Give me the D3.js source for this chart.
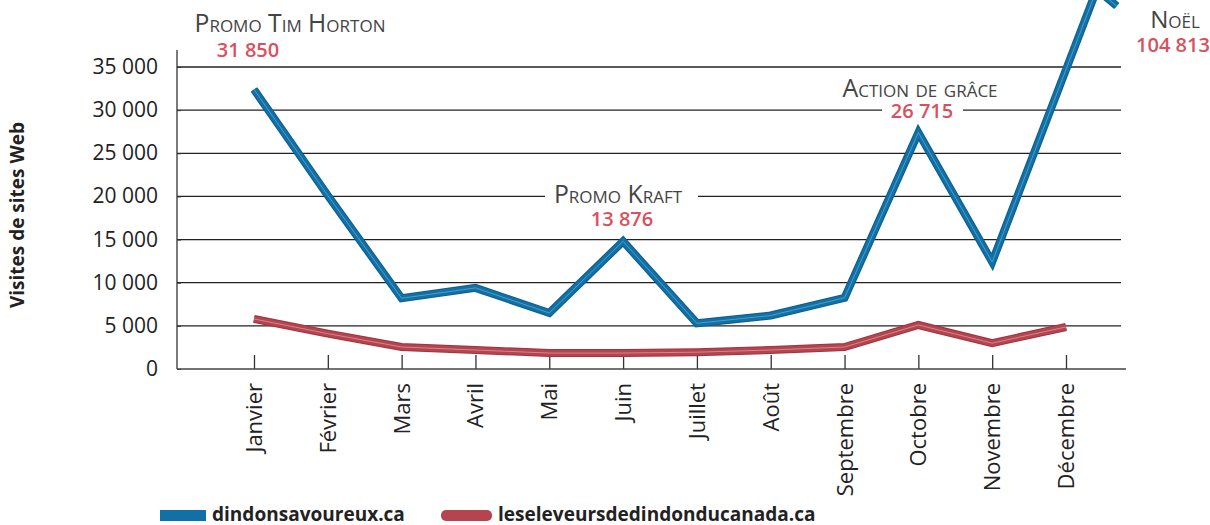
<!DOCTYPE html>
<html>
<head>
<meta charset="utf-8">
<script src="https://cdn.jsdelivr.net/npm/d3@7"></script>
<style>
  body { margin: 0; background: #fff; }
  text { font-family: "Open Sans", sans-serif; }
</style>
</head>
<body>
<svg id="chart" width="1210" height="525"></svg>
<script>
const months = ["Janvier", "Février", "Mars", "Avril", "Mai", "Juin", "Juillet", "Août", "Septembre", "Octobre", "Novembre", "Décembre"];
const dindonsValues = [32400, 20100, 8200, 9400, 6500, 14800, 5300, 6200, 8250, 27400, 12400, 34700];
const eleveursValues = [5800, 4100, 2550, 2200, 1850, 1850, 1950, 2200, 2550, 5100, 3000, 4870];
const yTicks = [0, 5000, 10000, 15000, 20000, 25000, 30000, 35000];
const seriesNames = ["dindonsavoureux.ca", "leseleveursdedindonducanada.ca"];
const annotationTitles = ["Promo Tim Horton", "Promo Kraft", "Action de grâce", "Noël"];
const annotationValues = ["31 850", "13 876", "26 715", "104 813"];

const svg = d3.select("#chart");
const fmt = d => d3.format(",")(d).replace(/,/g, " ");

const x = d3.scalePoint().domain(months).range([254, 1066]);
const y = d3.scaleLinear().domain([0, 35000]).range([369, 67]);

// shrink or grow a text to the width it has in the picture
function fitWidth(sel, w) {
    const size = parseFloat(sel.attr("font-size"));
    const len = sel.node().getComputedTextLength();
    if (len > 0) sel.attr("font-size", size * w / len);
}

// gridlines
svg.append("g")
    .selectAll("line")
    .data(yTicks.filter(d => d > 0))
    .join("line")
    .attr("x1", 177).attr("x2", 1121)
    .attr("y1", d => y(d)).attr("y2", d => y(d))
    .attr("stroke", "#222").attr("stroke-width", 1.3);

// y axis
const yAxis = svg.append("g")
    .attr("transform", "translate(177,0)")
    .call(d3.axisRight(y).tickValues(yTicks).tickSize(4).tickFormat(""));
yAxis.select(".domain").remove();
yAxis.selectAll("line").attr("stroke", "#333");
svg.append("line")
    .attr("x1", 177).attr("x2", 177).attr("y1", 50).attr("y2", y(0))
    .attr("stroke", "#333").attr("stroke-width", 1.3);

svg.append("g")
    .selectAll("text")
    .data(yTicks)
    .join("text")
    .attr("x", 158)
    .attr("y", d => y(d) + 7)
    .attr("text-anchor", "end")
    .attr("font-size", 21)
    .attr("fill", "#222")
    .text(fmt);

// x axis
const xAxis = svg.append("g")
    .attr("transform", `translate(0,${y(0)})`)
    .call(d3.axisTop(x).tickSize(14).tickFormat(""));
xAxis.select(".domain").remove();
xAxis.selectAll("line").attr("stroke", "#333").attr("stroke-width", 1.3);
svg.append("line")
    .attr("x1", 177).attr("x2", 1126).attr("y1", y(0)).attr("y2", y(0))
    .attr("stroke", "#444").attr("stroke-width", 1.5);

svg.append("g")
    .selectAll("text")
    .data(months)
    .join("text")
    .attr("transform", d => `translate(${x(d) + 8},383) rotate(-90)`)
    .attr("text-anchor", "end")
    .attr("font-size", 22)
    .attr("fill", "#222")
    .text(d => d);

// y axis title
svg.append("text")
    .attr("transform", "translate(24,215) rotate(-90)")
    .attr("text-anchor", "middle")
    .attr("font-size", 19)
    .attr("font-weight", 700)
    .attr("fill", "#222")
    .text("Visites de sites Web");

// annotation white backgrounds over gridlines
svg.append("rect").attr("x", 545).attr("y", 186).attr("width", 153).attr("height", 20).attr("fill", "#fff");
svg.append("rect").attr("x", 882).attr("y", 100).attr("width", 81).attr("height", 20).attr("fill", "#fff");

// lines
const line = d3.line()
    .x((d, i) => x(months[i]))
    .y(d => y(d));

function drawSeries(values, dark, main, light, extra) {
    let pts = values.map((v, i) => [x(months[i]), y(v)]);
    const g = svg.append("g").attr("fill", "none").attr("stroke-linejoin", "miter").attr("stroke-linecap", "butt");
    let paths = [line(values)];
    if (extra) {
        // arrow that keeps climbing past the top of the chart (Noël)
        const a = pts[pts.length - 2], b = pts[pts.length - 1];
        const ang = Math.atan2(b[1] - a[1], b[0] - a[0]);
        const tip = [b[0] + Math.cos(ang) * 86, b[1] + Math.sin(ang) * 86];
        const back = ang + Math.PI;
        const w1 = [tip[0] + Math.cos(back + 1.24) * 28, tip[1] + Math.sin(back + 1.24) * 28];
        const w2 = [tip[0] + Math.cos(back - 1.24) * 26, tip[1] + Math.sin(back - 1.24) * 26];
        paths.push(`M${b[0]},${b[1]}L${tip[0]},${tip[1]}`);
        paths.push(`M${w1[0]},${w1[1]}L${tip[0]},${tip[1]}L${w2[0]},${w2[1]}`);
    }
    paths.forEach(p => {
        g.append("path").attr("d", p).attr("stroke", dark).attr("stroke-width", 8);
    });
    paths.forEach(p => {
        g.append("path").attr("d", p).attr("stroke", main).attr("stroke-width", 6);
    });
    paths.forEach(p => {
        g.append("path").attr("d", p).attr("stroke", light).attr("stroke-width", 1).attr("stroke-opacity", 0.7);
    });
}

drawSeries(eleveursValues, "#a0343f", "#b4444f", "#e3a0a6", false);
drawSeries(dindonsValues, "#0c5e8d", "#1170a6", "#6aaed6", true);

// annotations
const annoPos = [
    { tx: 290, ty: 32, tw: 195, vx: 248, vy: 57 },
    { tx: 618, ty: 203, tw: 131, vx: 622, vy: 226 },
    { tx: 920, ty: 97, tw: 160, vx: 922, vy: 118 },
    { tx: 1175, ty: 28, tw: 50, vx: 1173, vy: 52 }
];
annotationTitles.forEach((t, i) => {
    const p = annoPos[i];
    const title = svg.append("text")
        .attr("x", p.tx).attr("y", p.ty)
        .attr("text-anchor", "middle")
        .attr("font-size", 24)
        .attr("font-weight", 500)
        .style("font-variant", "small-caps")
        .attr("fill", "#444")
        .text(t);
    fitWidth(title, p.tw);
    svg.append("text")
        .attr("x", p.vx).attr("y", p.vy)
        .attr("text-anchor", "middle")
        .attr("font-size", 20)
        .attr("font-weight", 600)
        .attr("fill", "#d9505e")
        .text(annotationValues[i]);
});

// legend
const legendX = [160, 441];
const legendW = [46, 51];
const legendTextW = [193, 318];
const legendColors = ["#1170a6", "#b4444f"];
seriesNames.forEach((name, i) => {
    svg.append("rect")
        .attr("x", legendX[i]).attr("y", 510)
        .attr("width", legendW[i]).attr("height", 11)
        .attr("rx", i === 1 ? 5 : 0)
        .attr("fill", legendColors[i]);
    const t = svg.append("text")
        .attr("x", legendX[i] + legendW[i] + 6).attr("y", 521)
        .attr("font-size", 18.5)
        .attr("font-weight", 700)
        .attr("fill", "#222")
        .text(name);
    fitWidth(t, legendTextW[i]);
});
</script>
</body>
</html>
